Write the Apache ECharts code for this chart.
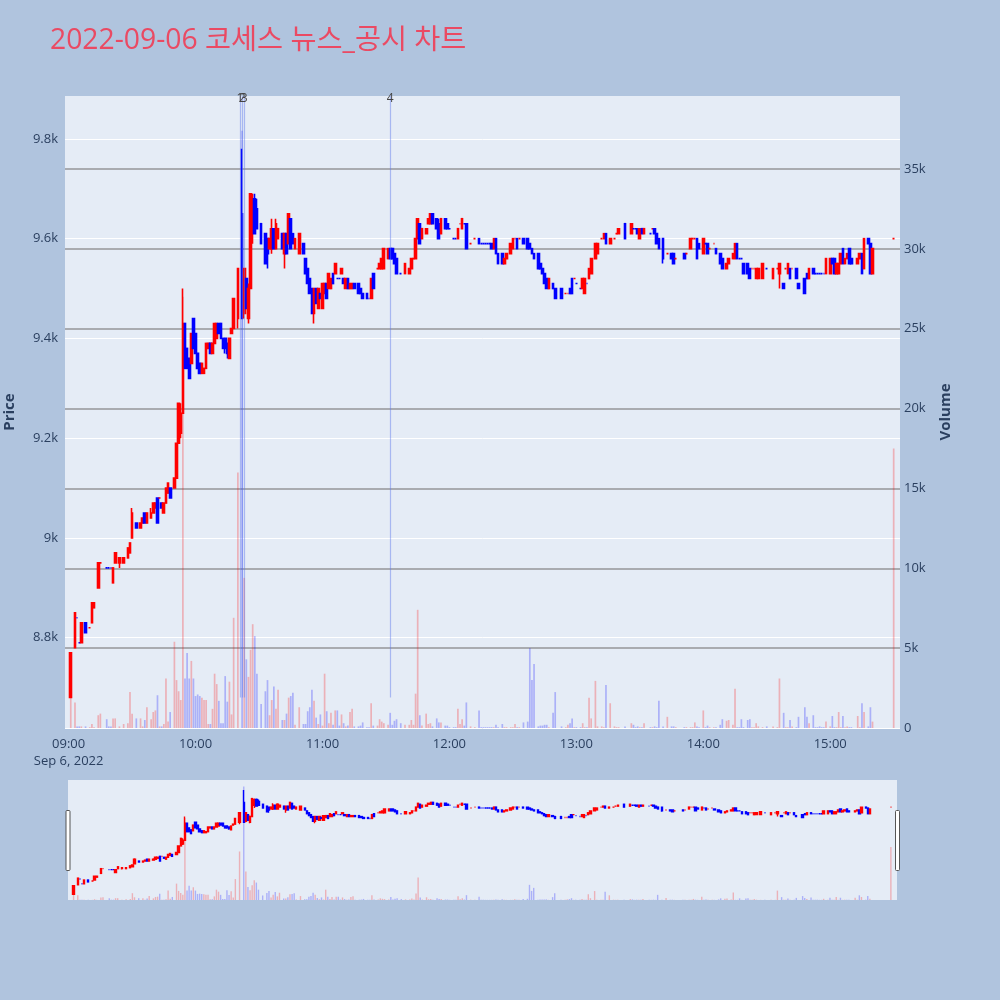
<!DOCTYPE html>
<html><head><meta charset="utf-8">
<script src="https://cdn.jsdelivr.net/npm/echarts@6/dist/echarts.min.js"></script>
<style>html,body{margin:0;padding:0;background:#b0c4de;}#c{width:1000px;height:1000px;}</style>
</head><body><div id="c"></div>
<script>
const titleText = '2022-09-06 코세스 뉴스_공시 차트';
const dateLabel = 'Sep 6, 2022';
const times = [
'09:01','09:03','09:04','09:05','09:06','09:08','09:10','09:11','09:12','09:14',
'09:15','09:18','09:19','09:20','09:21','09:22','09:24','09:26','09:28','09:29',
'09:30','09:32','09:34','09:35','09:36','09:37','09:39','09:40','09:41','09:42',
'09:43','09:44','09:45','09:46','09:47','09:48','09:50','09:51','09:52','09:53',
'09:54','09:55','09:56','09:57','09:58','09:59','10:00','10:01','10:02','10:03',
'10:04','10:05','10:06','10:07','10:08','10:09','10:10','10:11','10:12','10:13',
'10:14','10:15','10:16','10:17','10:18','10:20','10:22','10:23','10:24','10:25',
'10:26','10:27','10:28','10:29','10:31','10:33','10:34','10:35','10:36','10:37',
'10:38','10:39','10:41','10:42','10:43','10:44','10:45','10:46','10:47','10:49',
'10:51','10:52','10:53','10:54','10:55','10:56','10:57','10:58','10:59','11:00',
'11:01','11:02','11:03','11:04','11:05','11:06','11:07','11:08','11:09','11:10',
'11:11','11:12','11:13','11:14','11:15','11:17','11:18','11:19','11:21','11:22',
'11:23','11:24','11:26','11:27','11:28','11:29','11:31','11:32','11:33','11:34',
'11:35','11:37','11:39','11:41','11:42','11:43','11:44','11:45','11:46','11:47',
'11:49','11:50','11:51','11:52','11:54','11:55','11:56','11:58','11:59','12:00',
'12:02','12:03','12:04','12:05','12:06','12:07','12:08','12:10','12:12','12:14',
'12:15','12:16','12:17','12:18','12:19','12:20','12:21','12:22','12:23','12:25',
'12:26','12:27','12:29','12:30','12:31','12:32','12:33','12:35','12:37','12:38',
'12:39','12:40','12:42','12:43','12:44','12:45','12:46','12:47','12:49','12:50',
'12:53','12:55','12:56','12:57','12:58','12:59','13:00','13:02','13:03','13:04',
'13:05','13:06','13:07','13:09','13:10','13:12','13:13','13:14','13:16','13:18',
'13:19','13:20','13:23','13:26','13:27','13:28','13:29','13:30','13:31','13:32',
'13:35','13:36','13:37','13:38','13:39','13:41','13:43','13:45','13:46','13:47',
'13:51','13:52','13:54','13:55','13:56','13:57','13:58','14:00','14:01','14:02',
'14:03','14:05','14:06','14:08','14:09','14:11','14:12','14:14','14:15','14:16',
'14:17','14:18','14:19','14:21','14:22','14:23','14:24','14:25','14:26','14:28',
'14:30','14:33','14:35','14:36','14:38','14:39','14:40','14:41','14:42','14:44',
'14:45','14:48','14:49','14:50','14:52','14:53','14:54','14:55','14:56','14:57',
'14:58','15:00','15:01','15:02','15:03','15:04','15:05','15:06','15:07','15:08',
'15:09','15:10','15:13','15:14','15:15','15:16','15:18','15:19','15:20','15:30'];
const opens = [
8680,8780,8840,8790,8790,8830,8820,8830,8860,8900,
8950,8940,8940,8940,8910,8950,8950,8950,8960,8970,
9000,9030,9020,9030,9050,9030,9040,9050,9060,9080,
9080,9070,9050,9070,9090,9100,9100,9120,9190,9210,
9250,9430,9380,9360,9350,9440,9410,9370,9350,9330,
9330,9340,9380,9390,9370,9390,9400,9430,9430,9400,
9400,9390,9360,9410,9420,9440,9650,9450,9520,9440,
9500,9620,9680,9660,9630,9610,9600,9580,9580,9620,
9580,9600,9610,9570,9610,9590,9640,9610,9580,9570,
9590,9560,9540,9520,9500,9450,9500,9460,9490,9460,
9490,9510,9500,9500,9530,9530,9520,9520,9530,9520,
9500,9520,9500,9500,9510,9510,9500,9490,9490,9480,
9480,9530,9540,9540,9540,9540,9560,9580,9580,9570,
9560,9530,9530,9530,9540,9560,9560,9600,9630,9600,
9610,9630,9630,9650,9640,9630,9610,9640,9630,9620,
9600,9600,9600,9630,9620,9630,9630,9590,9600,9600,
9590,9590,9590,9590,9590,9590,9580,9600,9570,9570,
9550,9560,9570,9580,9600,9600,9600,9600,9600,9590,
9580,9570,9570,9550,9540,9530,9520,9500,9510,9500,
9500,9490,9490,9500,9520,9520,9510,9500,9500,9490,
9510,9520,9530,9560,9570,9600,9600,9610,9590,9600,
9610,9610,9630,9610,9620,9620,9620,9600,9620,9610,
9610,9620,9620,9610,9600,9600,9570,9570,9570,9560,
9570,9570,9580,9600,9600,9600,9590,9570,9590,9590,
9580,9590,9580,9570,9560,9540,9550,9560,9560,9590,
9560,9560,9550,9550,9540,9540,9540,9520,9520,9520,
9540,9520,9540,9530,9510,9540,9530,9540,9540,9540,
9510,9520,9530,9520,9540,9530,9530,9530,9530,9530,
9530,9530,9560,9560,9530,9530,9550,9580,9550,9560,
9580,9560,9550,9560,9570,9540,9600,9590,9530,9600];
const closes = [
8770,8850,8840,8790,8830,8810,8820,8870,8870,8950,
8950,8940,8940,8940,8940,8970,8960,8960,8980,8990,
9050,9020,9030,9040,9030,9050,9050,9070,9070,9030,
9080,9060,9070,9100,9110,9080,9120,9190,9270,9250,
9430,9340,9340,9320,9410,9380,9370,9340,9330,9350,
9340,9390,9390,9370,9390,9430,9430,9410,9400,9380,
9380,9370,9400,9420,9480,9540,9440,9540,9460,9500,
9690,9680,9610,9620,9590,9550,9570,9600,9620,9580,
9630,9620,9580,9610,9570,9650,9580,9590,9600,9610,
9570,9530,9510,9490,9450,9500,9470,9500,9480,9510,
9510,9480,9530,9520,9510,9550,9520,9520,9540,9510,
9520,9500,9510,9510,9500,9490,9490,9480,9480,9480,
9520,9500,9540,9550,9560,9580,9580,9560,9560,9550,
9530,9530,9550,9540,9560,9560,9600,9640,9590,9620,
9620,9640,9650,9630,9620,9600,9640,9620,9620,9620,
9600,9600,9620,9630,9640,9630,9580,9590,9600,9590,
9590,9590,9590,9590,9590,9580,9600,9570,9550,9550,
9560,9570,9590,9600,9600,9580,9600,9590,9580,9580,
9570,9560,9540,9540,9530,9510,9500,9520,9500,9480,
9480,9490,9490,9490,9490,9520,9510,9500,9520,9520,
9510,9540,9560,9590,9590,9600,9610,9590,9600,9600,
9610,9620,9600,9630,9620,9620,9610,9620,9610,9620,
9610,9620,9610,9590,9580,9560,9570,9560,9550,9560,
9560,9570,9600,9600,9600,9560,9580,9600,9590,9570,
9580,9590,9570,9550,9540,9550,9560,9570,9590,9560,
9560,9560,9530,9530,9520,9540,9540,9540,9540,9550,
9540,9540,9540,9550,9500,9540,9550,9520,9540,9520,
9500,9490,9520,9540,9530,9530,9530,9530,9530,9530,
9560,9560,9550,9530,9550,9550,9570,9550,9560,9570,
9550,9550,9560,9570,9530,9600,9590,9530,9580,9600];
const lows = [
8680,8780,8840,8790,8790,8810,8820,8830,8860,8900,
8950,8940,8940,8940,8910,8950,8940,8950,8960,8970,
9000,9020,9020,9030,9030,9030,9040,9050,9060,9030,
9080,9060,9050,9070,9090,9080,9100,9120,9190,9200,
9250,9340,9340,9320,9350,9380,9370,9340,9330,9330,
9330,9340,9380,9370,9370,9390,9400,9410,9400,9380,
9370,9360,9360,9410,9420,9420,9440,9440,9460,9430,
9500,9590,9610,9620,9590,9550,9540,9580,9570,9580,
9580,9600,9580,9540,9570,9590,9580,9590,9580,9570,
9570,9530,9510,9490,9450,9430,9470,9460,9480,9460,
9490,9480,9500,9500,9510,9530,9520,9520,9530,9510,
9500,9500,9500,9500,9500,9490,9490,9480,9480,9480,
9480,9500,9540,9540,9540,9540,9560,9560,9560,9550,
9530,9530,9530,9530,9540,9560,9560,9600,9590,9600,
9610,9630,9630,9630,9620,9600,9610,9620,9620,9620,
9600,9600,9600,9630,9620,9630,9580,9590,9600,9590,
9590,9590,9590,9590,9590,9580,9580,9570,9550,9550,
9550,9560,9570,9580,9600,9580,9600,9590,9580,9580,
9570,9560,9540,9540,9530,9510,9500,9500,9500,9480,
9480,9490,9490,9490,9490,9520,9510,9500,9500,9490,
9510,9520,9530,9560,9570,9600,9600,9590,9590,9600,
9610,9610,9600,9610,9620,9620,9610,9600,9610,9610,
9610,9620,9610,9590,9580,9550,9570,9560,9550,9560,
9560,9570,9580,9600,9600,9560,9580,9570,9590,9570,
9580,9590,9570,9550,9540,9540,9550,9560,9560,9560,
9560,9560,9530,9530,9520,9540,9540,9520,9520,9520,
9540,9520,9540,9500,9500,9540,9530,9520,9540,9520,
9500,9490,9520,9520,9530,9530,9530,9530,9530,9530,
9530,9530,9550,9530,9530,9530,9550,9550,9550,9560,
9550,9550,9550,9560,9530,9540,9590,9530,9530,9600];
const highs = [
8770,8850,8840,8790,8830,8830,8820,8870,8870,8950,
8950,8940,8940,8940,8940,8970,8960,8960,8980,8990,
9060,9030,9030,9040,9050,9050,9060,9070,9070,9080,
9080,9070,9070,9100,9110,9100,9120,9190,9270,9270,
9500,9430,9380,9360,9410,9440,9410,9370,9350,9350,
9340,9390,9390,9390,9390,9430,9430,9430,9430,9400,
9400,9390,9400,9420,9480,9540,9780,9540,9520,9510,
9690,9690,9690,9680,9630,9610,9600,9600,9640,9620,
9640,9620,9610,9610,9610,9650,9640,9610,9600,9610,
9590,9560,9540,9520,9500,9500,9500,9500,9490,9510,
9510,9510,9530,9520,9530,9550,9520,9520,9540,9520,
9520,9520,9510,9510,9510,9510,9500,9490,9490,9480,
9520,9530,9540,9550,9560,9580,9580,9580,9580,9570,
9560,9530,9550,9540,9560,9560,9600,9640,9630,9620,
9620,9640,9650,9650,9640,9640,9640,9640,9630,9620,
9600,9600,9620,9630,9640,9630,9630,9590,9600,9600,
9590,9590,9590,9590,9590,9590,9600,9600,9570,9570,
9560,9570,9590,9600,9600,9600,9600,9600,9600,9590,
9580,9570,9570,9550,9540,9530,9520,9520,9510,9500,
9500,9490,9490,9500,9520,9520,9510,9500,9520,9520,
9510,9540,9560,9590,9590,9600,9610,9610,9600,9600,
9610,9620,9630,9630,9620,9620,9620,9620,9620,9620,
9610,9620,9620,9610,9600,9600,9570,9570,9570,9560,
9570,9570,9600,9600,9600,9600,9590,9600,9590,9590,
9580,9590,9580,9570,9560,9550,9560,9570,9590,9590,
9560,9560,9550,9550,9540,9540,9540,9540,9540,9550,
9540,9540,9540,9550,9510,9540,9550,9540,9540,9540,
9510,9520,9530,9540,9540,9530,9530,9530,9530,9530,
9560,9560,9560,9560,9550,9550,9570,9580,9560,9570,
9580,9560,9560,9570,9570,9600,9600,9590,9580,9600];
const volumes = [
1900,1600,100,100,100,100,50,250,50,800,
900,550,100,100,600,600,100,250,300,2250,
900,600,600,100,500,1300,550,1000,1100,2050,
100,100,250,3100,400,1000,5400,3000,2300,1750,
27000,3100,4700,3100,4200,3100,2000,2100,2000,1900,
1750,1750,250,250,1200,3400,2750,1700,300,300,
3250,1650,2900,850,6900,16000,37400,9400,4300,3200,
4900,6500,5750,3400,1500,2300,3000,800,1750,2600,
1200,2400,500,500,900,1900,2000,2200,200,1300,
250,250,1050,1300,2400,1700,650,250,850,150,
3400,1050,300,950,200,1100,1100,150,850,300,
100,150,1000,1200,100,100,150,350,50,50,
1550,150,150,550,400,300,200,950,200,450,
550,300,200,200,500,200,2150,7400,800,150,
900,250,300,100,600,350,350,150,150,50,
50,50,1200,250,550,150,1600,100,50,1100,
50,50,50,50,50,50,50,200,50,250,
50,50,50,50,250,50,50,350,400,5000,
3000,4000,100,150,150,200,200,50,950,2250,
100,50,200,300,600,50,50,50,300,50,
50,1900,600,2950,100,100,50,2700,1550,100,
50,50,100,300,200,50,100,50,50,300,
50,50,100,50,1700,100,700,100,100,50,
50,50,50,50,350,100,50,1100,50,150,
50,50,50,200,550,450,500,200,2450,50,
50,550,50,500,550,50,50,300,100,50,
100,100,50,3100,950,50,50,500,100,50,
700,1300,700,300,800,50,50,100,50,50,
400,100,750,50,50,1000,50,750,50,100,
50,50,750,50,1550,1000,100,1300,400,17500];
const newsTimes = ['10:21','10:22','10:23','11:32'];
const newsLabels = ['1','2','3','4'];
const priceTicks = [8800, 9000, 9200, 9400, 9600, 9800];

const T = s => { const p = s.split(':').map(Number); return Date.UTC(2022, 8, 6, p[0], p[1], p[2] || 0); };
const xMin = T('08:58:41'), xMax = T('15:32:35');
const pMin = 8619, pMax = 9886, vMax = 39570;
const UP = '#ff0000', DOWN = '#0000ff';
const UPV = 'rgba(255,0,0,0.25)', DOWNV = 'rgba(0,0,255,0.25)';

const dirs = [];
closes.forEach((c, i) => {
  const o = opens[i];
  let d;
  if (c > o) d = 1; else if (c < o) d = -1;
  else if (i === 0) d = 1;
  else if (c > closes[i-1]) d = 1; else if (c < closes[i-1]) d = -1; else d = dirs[i-1];
  dirs.push(d);
});
const xs = times.map(T);
const candleItems = xs.map((t, i) => {
  const col = dirs[i] > 0 ? UP : DOWN;
  return { value: [t, opens[i], closes[i], lows[i], highs[i]],
    itemStyle: { color: col, color0: col, borderColor: col, borderColor0: col } };
});
const volItems = xs.map((t, i) => ({ value: [t, volumes[i]], itemStyle: { color: dirs[i] > 0 ? UPV : DOWNV } }));
const dayLow = Math.min.apply(null, lows);

const lblColor = '#2a3f5f';
const fam = '"Open Sans","Noto Sans CJK KR",sans-serif';
const chart = echarts.init(document.getElementById('c'));
chart.setOption({
  useUTC: true,
  animation: false,
  backgroundColor: '#b0c4de',
  title: { text: titleText, left: 45, top: 22,
    textStyle: { color: '#ea4a63', fontSize: 28.3, fontWeight: 'normal', fontFamily: fam } },
  grid: [
    { left: 65, right: 100, top: 96, height: 632, show: true, backgroundColor: '#e5ecf6', borderWidth: 0, outerBoundsMode: 'none', containLabel: false },
    { left: 68, right: 103, top: 780, height: 120, show: true, backgroundColor: '#e5ecf6', borderWidth: 0, outerBoundsMode: 'none', containLabel: false }
  ],
  xAxis: [
    { type: 'time', gridIndex: 0, min: xMin, max: xMax, minInterval: 3600000, maxInterval: 3600000,
      axisLine: { show: false }, axisTick: { show: false }, splitLine: { show: false },
      axisLabel: { color: lblColor, fontSize: 13, fontFamily: fam, margin: 8, lineHeight: 17,
        showMinLabel: true, showMaxLabel: true,
        formatter: function (v) {
          const d = new Date(v);
          if (d.getUTCMinutes() !== 0 || d.getUTCSeconds() !== 0) return '';
          const hh = String(d.getUTCHours()).padStart(2, '0');
          return hh + ':00' + (d.getUTCHours() === 9 ? '\n' + dateLabel : '');
        } } },
    { type: 'time', gridIndex: 1, min: xMin, max: xMax, show: false }
  ],
  yAxis: [
    { type: 'value', gridIndex: 0, min: pMin, max: pMax, splitNumber: 6, position: 'left',
      name: 'Price', nameLocation: 'middle', nameRotate: 90, nameGap: 48,
      nameTextStyle: { color: lblColor, fontSize: 15, fontWeight: 'bold', fontFamily: fam },
      axisLine: { show: false }, axisTick: { show: false },
      axisLabel: { color: lblColor, fontSize: 13, fontFamily: fam, margin: 7,
        formatter: v => (priceTicks.indexOf(Math.round(v)) >= 0 ? (v / 1000) + 'k' : '') },
      splitLine: { show: true, showMaxLine: false, lineStyle: { color: '#ffffff', width: 1 } } },
    { type: 'value', gridIndex: 0, min: 0, max: vMax, interval: 5000, position: 'right',
      name: 'Volume', nameLocation: 'middle', nameRotate: 90, nameGap: 38,
      nameTextStyle: { color: lblColor, fontSize: 15, fontWeight: 'bold', fontFamily: fam },
      axisLine: { show: false }, axisTick: { show: false },
      axisLabel: { color: lblColor, fontSize: 13, fontFamily: fam, margin: 4,
        formatter: v => (v % 5000 !== 0 ? '' : (v === 0 ? '0' : (v / 1000) + 'k')) },
      splitLine: { show: true, showMinLine: false, showMaxLine: false, lineStyle: { color: '#a9abb0', width: 2 } } },
    { type: 'value', gridIndex: 1, min: pMin, max: pMax, show: false, splitLine: { show: false } },
    { type: 'value', gridIndex: 1, min: 0, max: vMax, show: false, splitLine: { show: false } }
  ],
  graphic: [
    { type: 'rect', left: 65.5, top: 810, shape: { width: 4, height: 60, r: 1 }, style: { fill: '#ffffff', stroke: '#555', lineWidth: 1 }, z: 100 },
    { type: 'rect', left: 895, top: 810, shape: { width: 4, height: 60, r: 1 }, style: { fill: '#ffffff', stroke: '#555', lineWidth: 1 }, z: 100 }
  ],
  series: [
    { type: 'candlestick', xAxisIndex: 0, yAxisIndex: 0, data: candleItems, barWidth: 2.2,
      itemStyle: { borderWidth: 1.6 },
      markLine: { silent: true, symbol: ['none', 'none'], animation: false,
        lineStyle: { color: 'rgba(90,120,235,0.45)', width: 1.2, type: 'solid' },
        label: { show: true, position: 'end', distance: -9, color: '#444', fontSize: 12, fontFamily: fam },
        data: newsTimes.map((t, i) => [
          { coord: [T(t), dayLow] },
          { coord: [T(t), pMax], label: { formatter: newsLabels[i] } }
        ]) } },
    { type: 'bar', xAxisIndex: 0, yAxisIndex: 1, data: volItems, barWidth: 1.7 },
    { type: 'candlestick', xAxisIndex: 1, yAxisIndex: 2, data: candleItems, barWidth: 1.8,
      itemStyle: { borderWidth: 1.4 } },
    { type: 'bar', xAxisIndex: 1, yAxisIndex: 3, data: volItems, barWidth: 1.4 }
  ]
});
</script>
</body></html>
